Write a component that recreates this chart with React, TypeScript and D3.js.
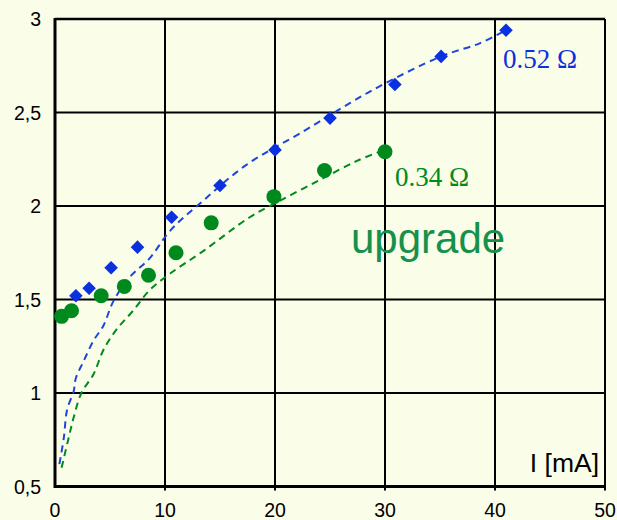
import React from "react";
import * as d3 from "d3";

// Measured points (current I in mA, voltage V)
const blueCurrent = [1.9, 3.1, 5.1, 7.5, 10.6, 15.0, 20.0, 25.0, 30.9, 35.1, 41.0];
const blueVoltage = [1.52, 1.56, 1.67, 1.78, 1.94, 2.11, 2.30, 2.47, 2.65, 2.80, 2.94];

const greenCurrent = [0.6, 1.5, 4.2, 6.3, 8.5, 11.0, 14.2, 19.9, 24.5, 30.0];
const greenVoltage = [1.41, 1.44, 1.52, 1.57, 1.63, 1.75, 1.91, 2.05, 2.19, 2.29];

// Dashed model curves
const blueFitCurrent = [0.4, 0.8, 1.1, 1.7, 1.9, 2.6, 3.5, 4.4, 5.3, 6.8, 8.6, 10.5, 13.5, 17.4, 22.6, 26.8, 29.5, 35.1, 38.6, 41.0];
const blueFitVoltage = [0.62, 0.76, 0.91, 1.01, 1.08, 1.17, 1.28, 1.36, 1.49, 1.62, 1.72, 1.87, 2.03, 2.22, 2.40, 2.55, 2.64, 2.80, 2.87, 2.94];

const greenFitCurrent = [0.6, 1.2, 1.7, 2.4, 3.5, 4.4, 5.6, 7.1, 8.6, 10.5, 13.5, 17.7, 20.5, 24.1, 27.4, 29.5];
const greenFitVoltage = [0.60, 0.75, 0.87, 1.00, 1.10, 1.23, 1.34, 1.44, 1.55, 1.64, 1.76, 1.94, 2.03, 2.14, 2.24, 2.29];

const xTicks = [0, 10, 20, 30, 40, 50];
const yTicks = [0.5, 1, 1.5, 2, 2.5, 3];
const yTickLabels = ["0,5", "1", "1,5", "2", "2,5", "3"];

const W = 617;
const H = 520;
const left = 55;
const right = 605;
const top = 19;
const bottom = 486.5;

const BG = "#fafde8";
const BLUE = "#0a30e0";
const BLUE_LINE = "#1f44e0";
const GREEN = "#008a1e";
const GREEN_TEXT = "#16904a";

export default function App() {
  const x = d3.scaleLinear().domain([0, 50]).range([left, right]);
  const y = d3.scaleLinear().domain([0.5, 3]).range([bottom, top]);

  const line = d3
    .line<[number, number]>()
    .x((d) => x(d[0]))
    .y((d) => y(d[1]))
    .curve(d3.curveCatmullRom.alpha(0.5));

  const blueFit = blueFitCurrent.map((c, i) => [c, blueFitVoltage[i]] as [number, number]);
  const greenFit = greenFitCurrent.map((c, i) => [c, greenFitVoltage[i]] as [number, number]);

  const diamond = d3.symbol().type(d3.symbolSquare).size(92)();

  const font = "Liberation Sans, Arial, sans-serif";
  const serif = "Liberation Serif, Times New Roman, serif";

  return (
    <svg
      width={W}
      height={H}
      style={{ position: "absolute", left: 0, top: 0, background: BG }}
    >
      <rect x={0} y={0} width={W} height={H} fill={BG} />

      {/* grid */}
      {xTicks.slice(1, -1).map((t) => (
        <line key={"gx" + t} x1={x(t)} x2={x(t)} y1={top} y2={bottom + 4} stroke="#000" strokeWidth={2} />
      ))}
      {yTicks.slice(1, -1).map((t) => (
        <line key={"gy" + t} x1={left} x2={right} y1={y(t)} y2={y(t)} stroke="#000" strokeWidth={2} />
      ))}
      {/* frame */}
      <line x1={left} x2={right} y1={top} y2={top} stroke="#000" strokeWidth={2.5} />
      <line x1={right} x2={right} y1={top} y2={bottom + 4} stroke="#000" strokeWidth={2} />
      <line x1={left} x2={left} y1={top - 1} y2={bottom + 1.5} stroke="#000" strokeWidth={3} />
      <line x1={left} x2={right + 1} y1={bottom} y2={bottom} stroke="#000" strokeWidth={3} />

      {/* tick labels */}
      {xTicks.map((t) => (
        <text key={"tx" + t} x={x(t)} y={517} textAnchor="middle" fontFamily={font} fontSize={19.5} fill="#000">
          {t}
        </text>
      ))}
      {yTicks.map((t, i) => (
        <text key={"ty" + t} x={41} y={y(t) + 7} textAnchor="end" fontFamily={font} fontSize={19.5} fill="#000">
          {yTickLabels[i]}
        </text>
      ))}
      <text x={599} y={471.5} textAnchor="end" fontFamily={font} fontSize={26.5} fill="#000">
        I [mA]
      </text>

      {/* model curves */}
      <path d={line(greenFit) ?? ""} fill="none" stroke={GREEN} strokeWidth={2} strokeDasharray="7,5" />
      <path d={line(blueFit) ?? ""} fill="none" stroke={BLUE_LINE} strokeWidth={2} strokeDasharray="7,5" />

      {/* measured points */}
      {greenCurrent.map((c, i) => (
        <circle key={"g" + i} cx={x(c)} cy={y(greenVoltage[i])} r={7.5} fill={GREEN} />
      ))}
      {blueCurrent.map((c, i) => (
        <path
          key={"b" + i}
          d={diamond ?? ""}
          transform={`translate(${x(c)},${y(blueVoltage[i])}) rotate(45)`}
          fill={BLUE}
        />
      ))}

      {/* annotations */}
      <text x={503} y={67.5} fontFamily={serif} fontSize={27} fill={BLUE}>
        0.52 Ω
      </text>
      <text x={395} y={185.5} fontFamily={serif} fontSize={27} fill={GREEN}>
        0.34 Ω
      </text>
      <text x={351} y={253} fontFamily={font} fontSize={42} fill={GREEN_TEXT}>
        upgrade
      </text>
    </svg>
  );
}
